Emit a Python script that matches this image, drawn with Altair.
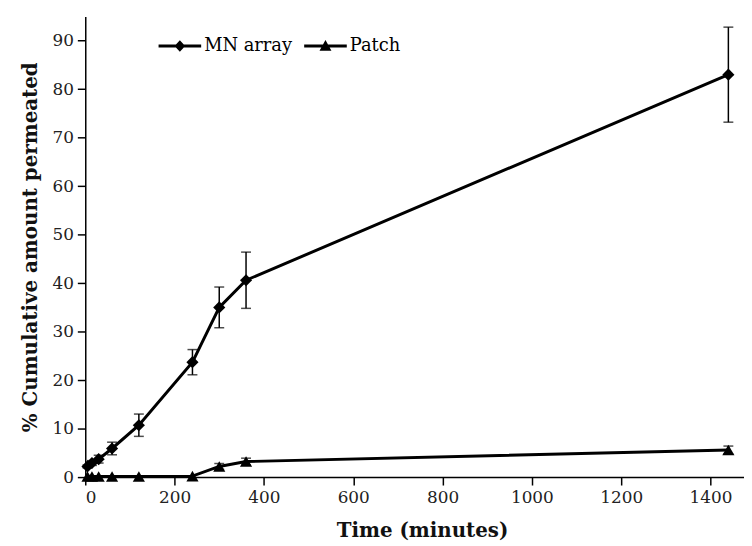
import altair as alt
import pandas as pd

times = [5, 15, 30, 60, 120, 240, 300, 360, 1440]
mn_mean = [2.2, 2.9, 3.7, 5.9, 10.7, 23.7, 35.0, 40.6, 83.0]
mn_err = [0.3, 0.5, 0.8, 1.3, 2.3, 2.6, 4.2, 5.8, 9.8]
patch_mean = [0.1, 0.1, 0.1, 0.1, 0.1, 0.2, 2.2, 3.2, 5.6]
patch_err = [0.0, 0.0, 0.0, 0.0, 0.0, 0.0, 0.6, 0.7, 0.8]
series = ["MN array", "Patch"]
x_ticks = [0, 200, 400, 600, 800, 1000, 1200, 1400]
y_ticks = [0, 10, 20, 30, 40, 50, 60, 70, 80, 90]

rows = []
for s, means, errs in [(series[0], mn_mean, mn_err), (series[1], patch_mean, patch_err)]:
    for t, m, e in zip(times, means, errs):
        rows.append({"time": t, "value": m, "lo": m - e, "hi": m + e, "series": s})
df = pd.DataFrame(rows)

FONT = "DejaVu Serif"
xs = alt.Scale(domain=[0, 1475], nice=False, zero=True)
ys = alt.Scale(domain=[0, 95], nice=False)

x_enc = alt.X("time:Q", scale=xs, axis=alt.Axis(values=x_ticks, format="d", title="Time (minutes)", titleX=340))
y_enc = alt.Y("value:Q", scale=ys, axis=alt.Axis(values=y_ticks, format="d", title="% Cumulative amount permeated"))

base = alt.Chart(df)

lines = base.mark_line(color="black", strokeWidth=3).encode(
    x=x_enc, y=y_enc, detail="series:N"
)

err_df = df[df["hi"] - df["lo"] > 0.01]
errbase = alt.Chart(err_df)
rules = errbase.mark_rule(color="black", strokeWidth=1.5).encode(
    x=alt.X("time:Q", scale=xs), y=alt.Y("lo:Q", scale=ys), y2="hi:Q"
)
caps_hi = errbase.mark_tick(color="black", thickness=1.5, size=10, orient="horizontal").encode(
    x=alt.X("time:Q", scale=xs), y=alt.Y("hi:Q", scale=ys)
)
caps_lo = errbase.mark_tick(color="black", thickness=1.5, size=10, orient="horizontal").encode(
    x=alt.X("time:Q", scale=xs), y=alt.Y("lo:Q", scale=ys)
)

points = base.mark_point(filled=True, color="black", opacity=1, size=150).encode(
    x=x_enc, y=y_enc,
    shape=alt.Shape("series:N", scale=alt.Scale(domain=series, range=["diamond", "triangle-up"]), legend=None),
)

diamond_path = "M-1,-0.07L1,-0.07L1,0.07L-1,0.07Z M0,-0.27L0.25,0L0,0.27L-0.25,0Z"
tri_path = "M-1,-0.07L1,-0.07L1,0.07L-1,0.07Z M0,-0.28L0.28,0.22L-0.28,0.22Z"

legend_layer = base.mark_point(filled=True, color="black", opacity=0).encode(
    x=x_enc, y=y_enc,
    shape=alt.Shape(
        "series:N",
        scale=alt.Scale(domain=series, range=[diamond_path, tri_path]),
        legend=alt.Legend(
            title=None, orient="none", legendX=74, legendY=8, direction="horizontal",
            symbolSize=1849, symbolOpacity=1, symbolFillColor="black", symbolStrokeWidth=0,
            labelFont=FONT, labelFontSize=18, labelColor="black", labelOffset=3,
            columnPadding=12, padding=0,
        ),
    ),
)

chart = alt.layer(lines, rules, caps_hi, caps_lo, points, legend_layer).resolve_scale(
    shape="independent"
).resolve_legend(shape="independent").properties(
    width=665, height=465,
    autosize=alt.AutoSizeParams(type="none"),
    padding={"left": 78, "top": 6, "right": 0, "bottom": 66},
).configure(font=FONT).configure_view(stroke=None).configure_axis(
    grid=False, domainColor="black", domainWidth=1.5, tickColor="black", tickWidth=1.5,
    tickSize=8, labelFont=FONT, labelFontSize=17, labelColor="#222",
    titleFont=FONT, titleFontSize=20, titleFontWeight="bold", titleColor="#111",
).configure_axisX(labelPadding=5, titlePadding=15).configure_axisY(labelPadding=4, titlePadding=12)

chart.save("out.html", embed_options={"renderer": "svg", "actions": False})
